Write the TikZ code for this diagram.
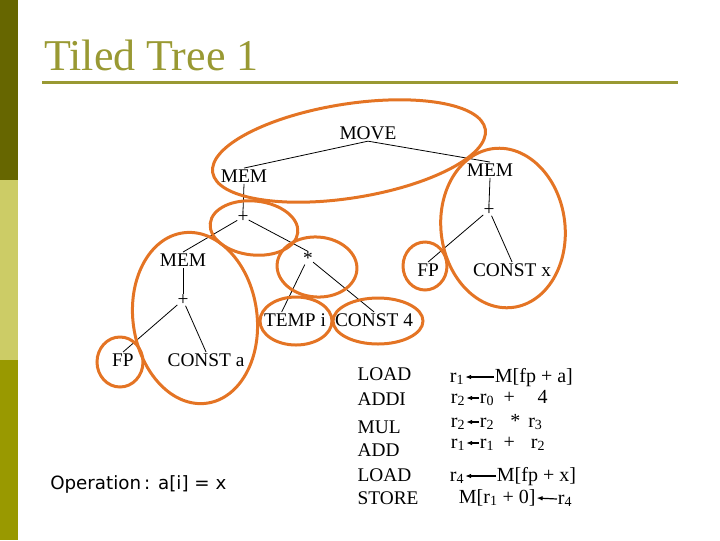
\documentclass[tikz,border=0pt]{standalone}
\usepackage{fontspec}
\setmainfont{Liberation Serif}
\newfontfamily\opfont{DejaVu Sans}
\usepackage{xcolor}
\usetikzlibrary{arrows.meta}
\definecolor{bardark}{HTML}{666600}
\definecolor{barlight}{HTML}{CCCC66}
\definecolor{barmid}{HTML}{999900}
\definecolor{titleolive}{RGB}{153,153,51}
\definecolor{tileorange}{RGB}{228,116,36}
\newcommand{\tsz}{\fontsize{14.5}{17}\selectfont}
\newcommand{\csz}{\fontsize{15}{18}\selectfont}
\newcommand{\rr}[1]{r\textsubscript{#1}}

\begin{document}
\begin{tikzpicture}[x=0.75pt, y=-0.75pt,
    lbl/.style = {inner sep=1pt, font=\tsz},
    opr/.style = {inner sep=0pt, font=\tsz},
    code/.style = {inner sep=0.5pt, font=\csz, text height=10.5pt, text depth=3pt},
    tile/.style = {draw=tileorange, line width=2.25pt},
    assign/.style = {-{Latex[length=4.5pt, width=3.5pt]}, line width=0.9pt}]
      \useasboundingbox (0,0) rectangle (720,540);
      % side bar and title
      \fill[bardark] (0,0) rectangle (18,180);
      \fill[barlight] (0,180) rectangle (18,360);
      \fill[barmid] (0,360) rectangle (18,540);
      \node[anchor=base west, inner sep=0pt, text=titleolive,
        font=\fontsize{33}{37}\selectfont] (title) at (44,70) {Tiled Tree 1};
      \draw[titleolive, line width=2.25pt] (42,82) -- (678,82);
      % tree
      \node[lbl] (mv) at (368,133) {MOVE};
      \node[lbl] (ml) at (244,176) {MEM};
      \node[lbl] (mr) at (490,170) {MEM};
      \node[opr] (pl) at (243,217) {+};
      \node[opr] (pr) at (489,210) {+};
      \node[lbl] (mm) at (183,260) {MEM};
      \node[opr] (tm) at (308,258) {*};
      \node[lbl] (fr) at (428,270) {FP};
      \node[lbl] (cx) at (512,270) {CONST x};
      \node[opr] (pm) at (183,300) {+};
      \node[lbl] (ti) at (295,320) {TEMP i};
      \node[lbl] (c4) at (374,320) {CONST 4};
      \node[lbl] (fl) at (123,360) {FP};
      \node[lbl] (ca) at (206,360) {CONST a};
      \foreach \i\j in {mv/ml, mv/mr, ml/pl, mr/pr, mm/pm} {
        \draw[line width=0.6pt] (\i.south) -- (\j.north);
      }
      \foreach \i\j in {pl/mm, pl/tm, tm/c4, pm/fl, pm/ca, pr/fr, pr/cx} {
        \draw[line width=0.6pt] (\i) -- (\j.north);
      }
      \draw[line width=0.6pt] (tm) -- ([xshift=-10pt]ti.north);
      % tiles
      \draw[tile, rotate around={9:(349,151)}] (349,151) ellipse [x radius=138, y radius=47];
      \draw[tile, rotate around={-6:(254,228)}] (254,228) ellipse [x radius=44, y radius=27];
      \draw[tile, rotate around={-4:(317,267)}] (317,267) ellipse [x radius=40, y radius=30];
      \draw[tile] (296,321) ellipse [x radius=36, y radius=24];
      \draw[tile] (378,321) ellipse [x radius=45, y radius=23];
      \draw[tile] (425,266) ellipse [x radius=22, y radius=24];
      \draw[tile, rotate around={7:(503,228)}] (503,228) ellipse [x radius=62, y radius=80];
      \draw[tile, rotate around={8:(195,318)}] (195,318) ellipse [x radius=62, y radius=86];
      \draw[tile] (120,362) ellipse [x radius=23, y radius=25];
      % operation
      \node[anchor=west, inner sep=0pt, font=\opfont\fontsize{13.7}{17}\selectfont]
        (opn) at (50,484) {Operation\,: a[i] = x};
      % instructions
      \foreach \n/\y/\t in {1/374/LOAD, 2/399/ADDI, 3/427/MUL, 4/450/ADD, 5/475/LOAD, 6/498/STORE} {
        \node[lbl, anchor=west] (op\n) at (356,\y) {\t};
      }
      \node[code, anchor=west] (d1) at (449,377) {\rr{1}};
      \node[code, anchor=west] (s1) at (494,377) {M[fp + a]};
      \node[code, anchor=west] (d2) at (450,398) {\rr{2}};
      \node[code, anchor=west] (s2) at (479,398) {\rr{0}\hspace{7pt}+\hspace{17pt}4};
      \node[code, anchor=west] (d3) at (450,422) {\rr{2}};
      \node[code, anchor=west] (s3) at (479,422) {\rr{2}\hspace{12pt}*\hspace{6pt}\rr{3}};
      \node[code, anchor=west] (d4) at (450,443) {\rr{1}};
      \node[code, anchor=west] (s4) at (479,443) {\rr{1}\hspace{7pt}+\hspace{12pt}\rr{2}};
      \node[code, anchor=west] (d5) at (449,476) {\rr{4}};
      \node[code, anchor=west] (s5) at (496,476) {M[fp + x]};
      \node[code, anchor=west] (d6) at (458,498) {M[\rr{1} + 0]};
      \node[code, anchor=west] (s6) at (557,499) {\rr{4}};
      \foreach \n in {1,...,6} {
        \draw[assign] (s\n.west) -- (d\n.east);
      }
    \end{tikzpicture}
\end{document}
